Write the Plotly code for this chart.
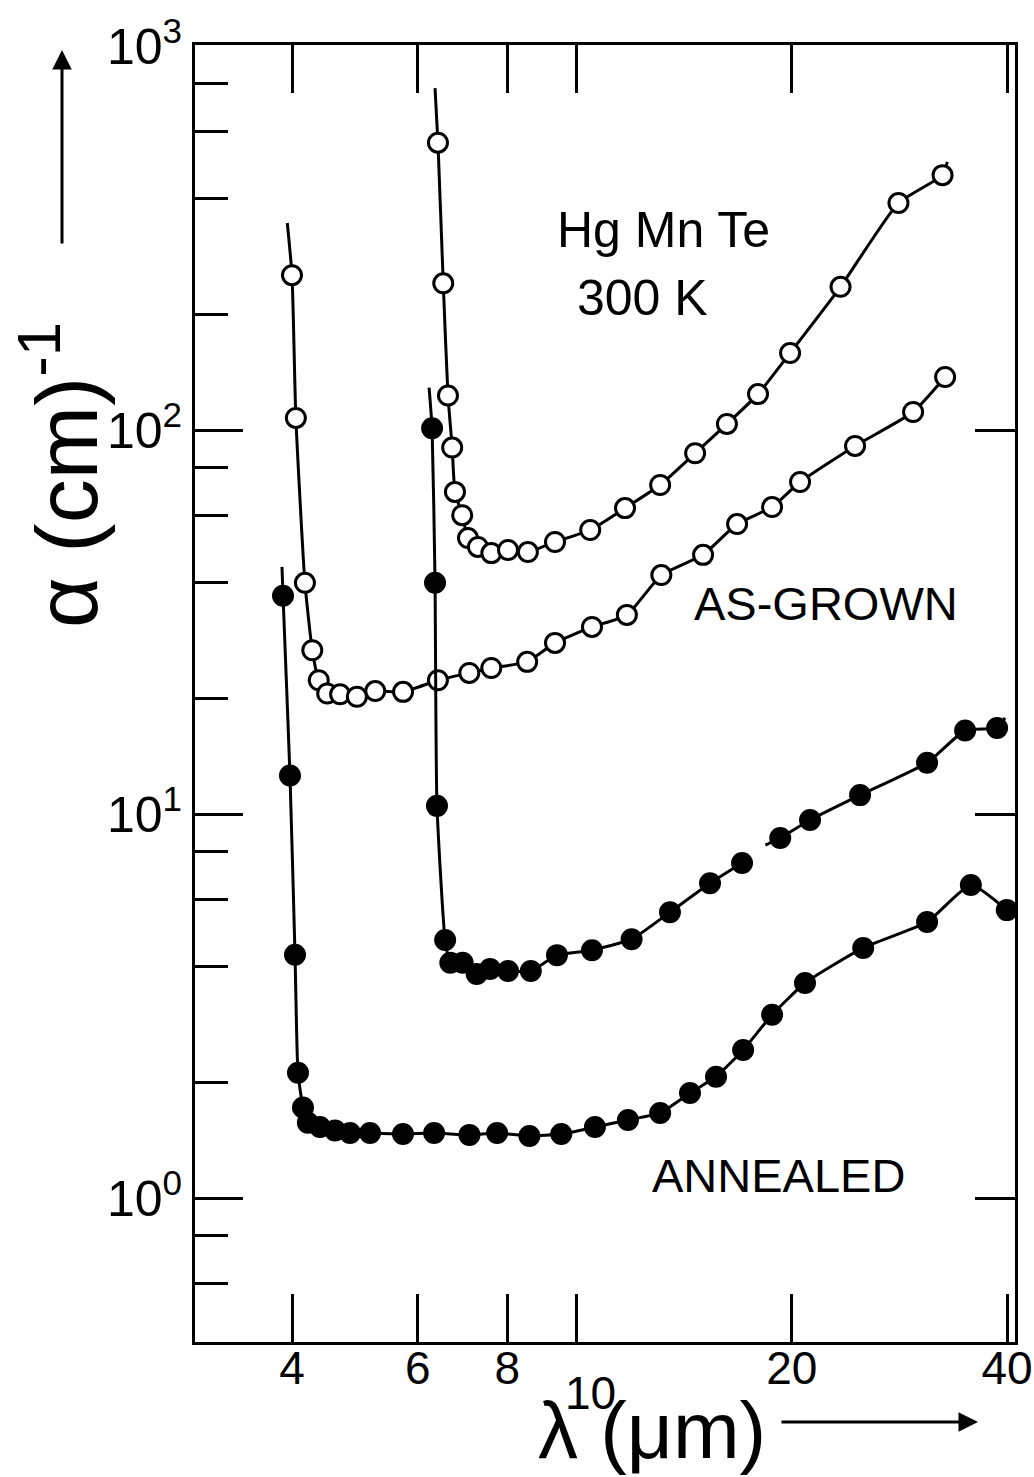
import plotly.graph_objects as go

# ---------------- data ----------------
# As-grown sample, upper curve (open circles)
ag1_x = [6.40, 6.51, 6.61, 6.70, 6.76, 6.92, 7.05, 7.28, 7.60, 8.02, 8.55, 9.33, 10.45,
         11.69, 13.09, 14.65, 16.23, 17.94, 19.89, 23.4, 28.2, 32.5]
ag1_y = [560, 241, 123, 90, 69, 60, 52.3, 49.6, 47.8, 48.7, 48.1, 51.1, 54.9,
         62.6, 71.9, 87, 103.7, 124, 158.7, 236, 390, 461]
ag1_line_start = (6.34, 777)
ag1_line_end = (33.0, 499)

# As-grown sample, lower curve (open circles)
ag2_x = [4.00, 4.05, 4.17, 4.27, 4.36, 4.48, 4.67, 4.93, 5.23, 5.72, 6.40, 7.08, 7.60,
         8.53, 9.33, 10.51, 11.76, 13.14, 15.03, 16.77, 18.77, 20.54, 24.52, 29.56, 32.77]
ag2_y = [253, 107.5, 40, 26.7, 22.3, 20.6, 20.5, 20.2, 20.9, 20.8, 22.3, 23.3, 24.0,
         24.9, 27.9, 30.7, 33.0, 41.9, 47.3, 56.9, 63.0, 73.2, 90.9, 111.4, 137.4]
ag2_line_start = (3.94, 346)

# Annealed sample, upper curve (filled circles)
an1_x = [6.28, 6.34, 6.38, 6.55, 6.66, 6.93, 7.25, 7.57, 8.02, 8.63, 9.39, 10.51,
         11.94, 13.51, 15.37, 17.04, 19.27, 21.21, 24.92, 30.92, 34.95, 38.74]
an1_y = [101, 40, 10.5, 4.7, 4.1, 4.1, 3.83, 3.95, 3.9, 3.9, 4.29, 4.42,
         4.72, 5.55, 6.6, 7.45, 8.66, 9.65, 11.2, 13.6, 16.5, 16.75]
an1_line_start = (6.22, 129)
an1_gap_after = 17.04          # the drawn curve is broken after this point
an1_resume = (18.37, 8.3)      # and resumes here
an1_line_end = (39.74, 17.8)

# Annealed sample, lower curve (filled circles)
an2_x = [3.886, 3.974, 4.039, 4.078, 4.144, 4.21, 4.377, 4.594, 4.822, 5.143, 5.718, 6.321,
         7.083, 7.743, 8.592, 9.520, 10.61, 11.80, 13.09, 14.41, 15.67, 17.10, 18.77,
         20.87, 25.17, 30.92, 35.6, 39.97]
an2_y = [37, 12.6, 4.3, 2.12, 1.72, 1.57, 1.53, 1.50, 1.476, 1.476, 1.467, 1.476,
         1.46, 1.476, 1.451, 1.467, 1.53, 1.596, 1.665, 1.876, 2.07, 2.43, 3.0,
         3.63, 4.48, 5.23, 6.53, 5.62]
an2_line_start = (3.873, 44)

x_tickvals = [4, 6, 8, 10, 20, 40]
x_ticktext = ["4", "6", "8", "", "20", "40"]
y_major = [1, 10, 100, 1000]
y_major_text = ["10<sup>0</sup>", "10<sup>1</sup>", "10<sup>2</sup>", "10<sup>3</sup>"]
y_minor = [0.6, 0.8, 2, 4, 6, 8, 20, 40, 60, 80, 200, 400, 600, 800]
y_right = [1, 10, 100]

# ---------------- layout geometry ----------------
W, H = 1034, 1477
L, R, T, B = 195, 1015, 45, 1342
INK = "black"
FONT = "Liberation Sans, Arial, sans-serif"


def px(xpix):
    return (xpix - L) / (R - L)


def py(ypix):
    return (B - ypix) / (B - T)


fig = go.Figure()


def add_curve(xs, ys, filled, start=None, end=None, gap_after=None, resume=None, yaxis="y"):
    lx, ly = [], []
    if start:
        lx.append(start[0]); ly.append(start[1])
    for xv, yv in zip(xs, ys):
        lx.append(xv); ly.append(yv)
        if gap_after is not None and xv == gap_after:
            lx.append(None); ly.append(None)
            lx.append(resume[0]); ly.append(resume[1])
    if end:
        lx.append(end[0]); ly.append(end[1])
    fig.add_trace(go.Scatter(x=lx, y=ly, mode="lines", yaxis=yaxis,
                             line=dict(color=INK, width=3, shape="spline", smoothing=0.5),
                             hoverinfo="skip", showlegend=False))
    fig.add_trace(go.Scatter(x=xs, y=ys, mode="markers", yaxis=yaxis,
                             marker=dict(symbol="circle", size=19,
                                         color=INK if filled else "white",
                                         line=dict(color=INK, width=3)),
                             showlegend=False))


add_curve(ag1_x, ag1_y, False, start=ag1_line_start, end=ag1_line_end)
add_curve(ag2_x, ag2_y, False, start=ag2_line_start)
add_curve(an1_x, an1_y, True, start=an1_line_start, end=an1_line_end,
          gap_after=an1_gap_after, resume=an1_resume)
add_curve(an2_x, an2_y, True, start=an2_line_start, yaxis="y2")

xr = [0.4664, 1.6132]
yr = [-0.375, 3.0026]

fig.update_layout(
    width=W, height=H,
    margin=dict(l=L, r=W - R, t=T, b=H - B, autoexpand=False),
    paper_bgcolor="white", plot_bgcolor="white",
    font=dict(family=FONT, color=INK),
    showlegend=False,
    xaxis=dict(type="log", range=xr, showgrid=False, zeroline=False, automargin=False,
               showline=True, linecolor=INK, linewidth=3, mirror="ticks",
               ticks="inside", ticklen=48, tickwidth=3, tickcolor=INK,
               tickmode="array", tickvals=x_tickvals, ticktext=x_ticktext,
               ticklabeloverflow="allow", ticklabelstandoff=-16,
               tickfont=dict(size=46, family=FONT, color=INK)),
    yaxis=dict(type="log", range=yr, showgrid=False, zeroline=False, automargin=False,
               showline=True, linecolor=INK, linewidth=3, mirror=True,
               ticks="inside", ticklen=48, tickwidth=3, tickcolor=INK,
               tickmode="array", tickvals=y_major, ticktext=y_major_text,
               tickfont=dict(size=50, family=FONT, color=INK),
               minor=dict(tickmode="array", tickvals=y_minor, ticks="inside",
                          ticklen=33, tickwidth=3, tickcolor=INK, showgrid=False)),
    yaxis2=dict(type="log", range=yr, overlaying="y", side="right", anchor="x",
                automargin=False,
                showgrid=False, zeroline=False, showline=False,
                ticks="inside", ticklen=40, tickwidth=3, tickcolor=INK,
                tickmode="array", tickvals=y_right, showticklabels=False),
)


def label(text, xpix, ypix, size, angle=0):
    return dict(text=text, x=px(xpix), y=py(ypix), xref="paper", yref="paper",
                xanchor="center", yanchor="middle", textangle=angle,
                showarrow=False, font=dict(size=size, family=FONT, color=INK))


ann = [
    label("Hg Mn Te", 663, 230, 50),
    label("300 K", 642, 298, 50),
    label("AS-GROWN", 826, 603, 47),
    label("ANNEALED", 778, 1175, 47),
    label("10", 590, 1393, 46),
    label("λ (μm)", 652, 1430, 80),
    label("α (cm)<sup>-1</sup>", 60, 475, 88, angle=-90),
]
# axis arrows
ann.append(dict(text="", x=px(62), y=py(50), xref="paper", yref="paper",
                showarrow=True, ax=0, ay=195, arrowhead=2, arrowsize=1.3,
                arrowwidth=3, arrowcolor=INK))
ann.append(dict(text="", x=px(978), y=py(1422), xref="paper", yref="paper",
                showarrow=True, ax=-198, ay=0, arrowhead=2, arrowsize=1.3,
                arrowwidth=3, arrowcolor=INK))
fig.update_layout(annotations=ann)

fig.write_html("out.html")
